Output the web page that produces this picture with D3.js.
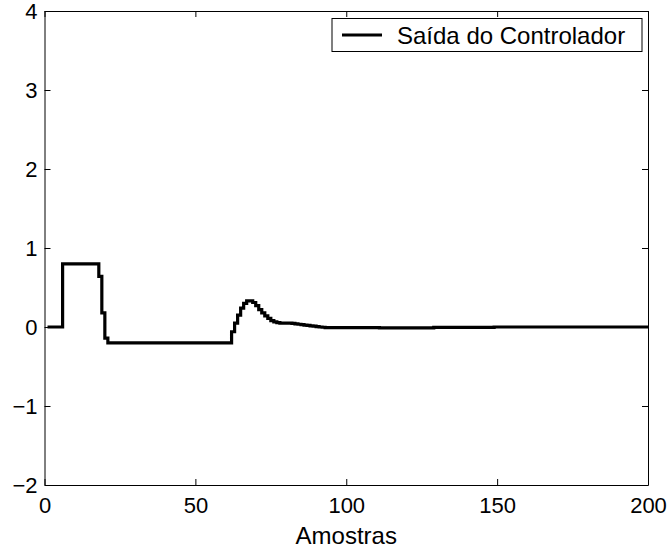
<!DOCTYPE html>
<html>
<head>
<meta charset="utf-8">
<script src="https://cdn.jsdelivr.net/npm/d3@7"></script>
<style>
  html, body { margin: 0; padding: 0; background: #fff; }
  svg { display: block; font-family: "Liberation Sans", Arial, Helvetica, sans-serif; }
</style>
</head>
<body>
<div id="chart"></div>
<script>
// controller output, one value per sample (samples 1..200)
const controllerOutput = [
  0, 0, 0, 0, 0,
  0.8, 0.8, 0.8, 0.8, 0.8, 0.8, 0.8, 0.8, 0.8, 0.8, 0.8, 0.8,
  0.64, 0.18, -0.14,
  -0.2, -0.2, -0.2, -0.2, -0.2, -0.2, -0.2, -0.2, -0.2, -0.2,
  -0.2, -0.2, -0.2, -0.2, -0.2, -0.2, -0.2, -0.2, -0.2, -0.2,
  -0.2, -0.2, -0.2, -0.2, -0.2, -0.2, -0.2, -0.2, -0.2, -0.2,
  -0.2, -0.2, -0.2, -0.2, -0.2, -0.2, -0.2, -0.2, -0.2, -0.2,
  -0.2,
  -0.06, 0.05, 0.15, 0.24, 0.30, 0.33, 0.33, 0.31, 0.27, 0.22,
  0.18, 0.14, 0.11, 0.08, 0.065, 0.055, 0.05, 0.05, 0.05, 0.048,
  0.045, 0.04, 0.035, 0.03, 0.025, 0.02, 0.015, 0.01, 0.005, 0,
  -0.003,
  -0.008, -0.008, -0.008, -0.008, -0.008, -0.008, -0.008, -0.008, -0.008,
  -0.008, -0.008, -0.008, -0.008, -0.008, -0.008, -0.008, -0.008, -0.008,
  -0.01, -0.01, -0.01, -0.01, -0.01, -0.01, -0.01, -0.01, -0.01,
  -0.01, -0.01, -0.01, -0.01, -0.01, -0.01, -0.01, -0.01, -0.01,
  -0.004, -0.004, -0.004, -0.004, -0.004, -0.004, -0.004, -0.004, -0.004, -0.004,
  -0.004, -0.004, -0.004, -0.004, -0.004, -0.004, -0.004, -0.004, -0.004, -0.004,
  0, 0, 0, 0, 0, 0, 0, 0, 0, 0, 0, 0, 0, 0, 0, 0, 0, 0, 0, 0,
  0, 0, 0, 0, 0, 0, 0, 0, 0, 0, 0, 0, 0, 0, 0, 0, 0, 0, 0, 0,
  0, 0, 0, 0, 0, 0, 0, 0, 0, 0, 0, 0
];
const samples = controllerOutput.map((_, i) => i + 1);

const xTicks = [0, 50, 100, 150, 200];
const yTicks = [-2, -1, 0, 1, 2, 3, 4];
const xLabel = "Amostras";
const legendLabel = "Saída do Controlador";

const width = 669;
const height = 555;
const margin = { top: 11, right: 21, bottom: 70, left: 44.5 };
const tickFont = 22;
const labelFont = 24;

const svg = d3.select("#chart").append("svg")
  .attr("width", width)
  .attr("height", height);

const x = d3.scaleLinear().domain([0, 200]).range([margin.left, width - margin.right]);
const y = d3.scaleLinear().domain([-2, 4]).range([height - margin.bottom, margin.top]);

const fmt = (v) => (v < 0 ? "\u2212" + Math.abs(v) : String(v));

// data line
const rows = samples.map((s, i) => ({ s, v: controllerOutput[i] }));
const line = d3.line()
  .x((d) => x(d.s))
  .y((d) => y(d.v))
  .curve(d3.curveStepAfter);

svg.append("path")
  .datum(rows)
  .attr("fill", "none")
  .attr("stroke", "#000")
  .attr("stroke-width", 3.2)
  .attr("stroke-linejoin", "miter")
  .attr("d", line);

// axes box with inward ticks on all sides
const tickLen = 6;
const axisStyle = (g) => {
  g.select(".domain").attr("stroke", "#000").attr("stroke-width", 1);
  g.selectAll(".tick line").attr("stroke", "#000").attr("stroke-width", 1);
  g.selectAll(".tick text").attr("fill", "#000").attr("font-size", tickFont);
};

svg.append("g")
  .attr("transform", `translate(0,${y(-2)})`)
  .call(d3.axisBottom(x).tickValues(xTicks).tickSize(-tickLen).tickSizeOuter(0)
    .tickPadding(12).tickFormat(fmt))
  .call(axisStyle)
  .call((g) => g.selectAll(".tick text").attr("dy", "0.71em"));

svg.append("g")
  .attr("transform", `translate(0,${y(4)})`)
  .call(d3.axisTop(x).tickValues(xTicks).tickSize(-tickLen).tickSizeOuter(0).tickFormat(""))
  .call(axisStyle);

svg.append("g")
  .attr("transform", `translate(${x(0)},0)`)
  .call(d3.axisLeft(y).tickValues(yTicks).tickSize(-tickLen).tickSizeOuter(0)
    .tickPadding(7).tickFormat(fmt))
  .call(axisStyle)
  .call((g) => g.selectAll(".tick text").attr("dy", "0.34em"));

svg.append("g")
  .attr("transform", `translate(${x(200)},0)`)
  .call(d3.axisRight(y).tickValues(yTicks).tickSize(-tickLen).tickSizeOuter(0).tickFormat(""))
  .call(axisStyle);

svg.append("text")
  .attr("x", (x(0) + x(200)) / 2)
  .attr("y", 544)
  .attr("text-anchor", "middle")
  .attr("font-size", labelFont)
  .text(xLabel);

// legend
const legend = svg.append("g");
legend.append("rect")
  .attr("x", 332).attr("y", 18.5)
  .attr("width", 310).attr("height", 33)
  .attr("fill", "#fff").attr("stroke", "#000").attr("stroke-width", 1);
legend.append("line")
  .attr("x1", 342).attr("x2", 382)
  .attr("y1", 35).attr("y2", 35)
  .attr("stroke", "#000").attr("stroke-width", 3.2);
legend.append("text")
  .attr("x", 397).attr("y", 43.5)
  .attr("font-size", labelFont)
  .text(legendLabel);
</script>
</body>
</html>
